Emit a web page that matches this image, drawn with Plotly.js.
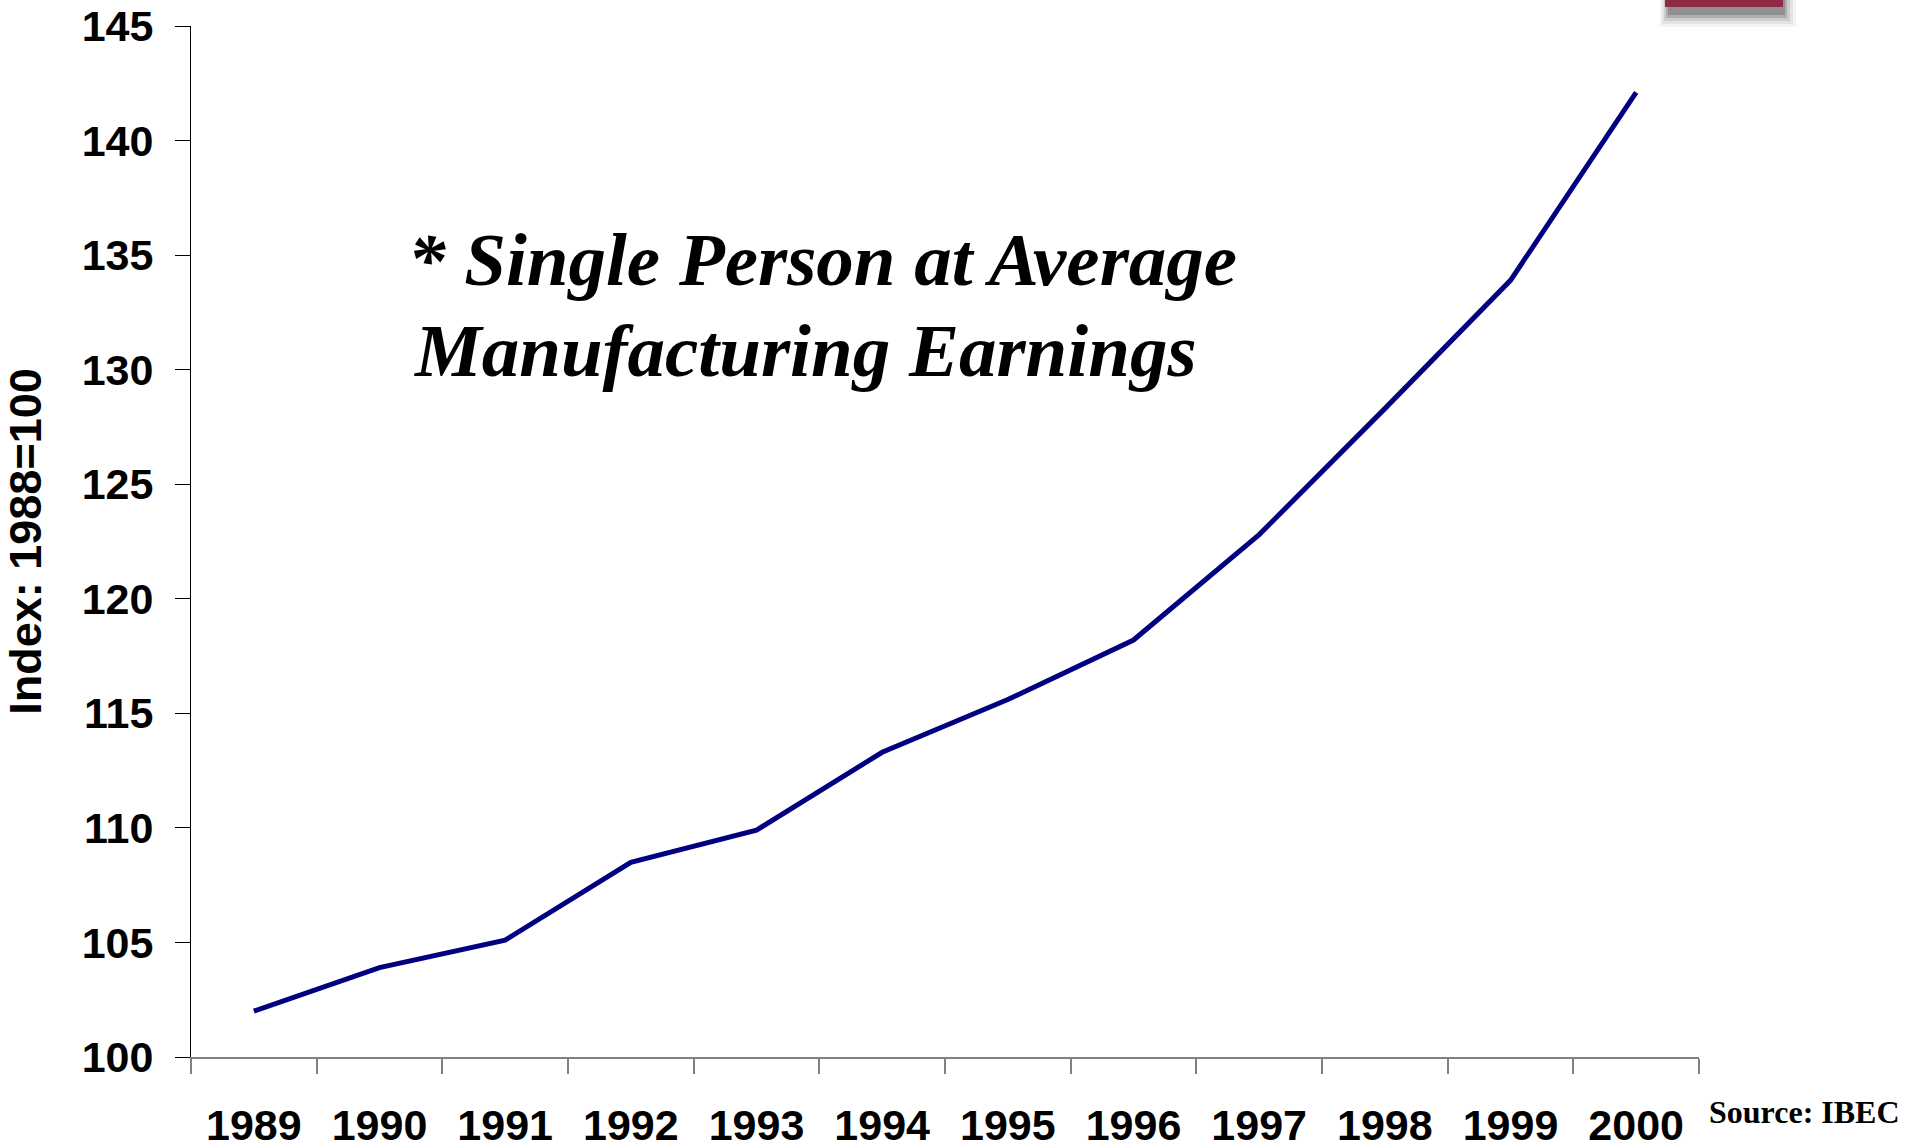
<!DOCTYPE html>
<html>
<head>
<meta charset="utf-8">
<script src="https://cdn.plot.ly/plotly-3.0.1.min.js"></script>
<style>
  html, body { margin: 0; padding: 0; background: #ffffff; }
  #chart { width: 1917px; height: 1147px; }
</style>
</head>
<body>
<div id="chart"></div>
<script>
// ---- data ----
const years = ['1989', '1990', '1991', '1992', '1993', '1994', '1995', '1996', '1997', '1998', '1999', '2000'];
const indexValues = [102.0, 103.9, 105.1, 108.5, 109.9, 113.3, 115.6, 118.2, 122.8, 128.3, 133.9, 142.1];
const yTickValues = [100, 105, 110, 115, 120, 125, 130, 135, 140, 145];
const yTickLabels = ['100', '105', '110', '115', '120', '125', '130', '135', '140', '145'];
const yAxisTitle = 'Index: 1988=100';
const noteLine1 = '* Single Person at Average';
const noteLine2 = 'Manufacturing Earnings';
const sourceText = 'Source: IBEC';

const sans = 'Liberation Sans, Arial, sans-serif';
const serif = 'Liberation Serif, Times New Roman, serif';

const trace = {
  type: 'scatter',
  mode: 'lines',
  x: years,
  y: indexValues,
  line: { color: '#000080', width: 5 },
  hoverinfo: 'x+y',
  showlegend: false
};

// helpers to convert reference pixel positions of decorations to paper coords
const PL = 191, PW = 1508, PT = 26, PH = 1031;
const px = v => (v - PL) / PW;
const py = v => 1 - (v - PT) / PH;

// layered translucent rects approximating the blurred shadow under the red tab
const shadowShapes = [];
const shadowSteps = [
  [1660, 1796, 0, 27, 0.05],
  [1662, 1793, 0, 24, 0.08],
  [1664, 1790, 0, 21, 0.12],
  [1666, 1787, 0, 18, 0.18],
  [1668, 1785, 0, 15, 0.22]
];
shadowSteps.forEach(s => {
  shadowShapes.push({
    type: 'rect', xref: 'paper', yref: 'paper', layer: 'above',
    x0: px(s[0]), x1: px(s[1]), y0: py(s[3]), y1: py(s[2]),
    fillcolor: 'rgba(40,40,40,' + s[4] + ')', line: { width: 0 }
  });
});

const layout = {
  width: 1917,
  height: 1147,
  margin: { l: 191, r: 218, t: 26, b: 90, pad: 0 },
  paper_bgcolor: '#ffffff',
  plot_bgcolor: '#ffffff',
  showlegend: false,
  xaxis: {
    type: 'category',
    range: [-0.5, years.length - 0.5],
    tickson: 'boundaries',
    ticks: 'outside',
    ticklen: 15,
    tickwidth: 2,
    tickcolor: '#808080',
    showline: true,
    linecolor: '#808080',
    linewidth: 2,
    showgrid: false,
    zeroline: false,
    ticklabelstandoff: 29,
    tickfont: { family: sans, size: 43, color: '#000000', weight: 'bold' },
    fixedrange: true
  },
  yaxis: {
    range: [100, 145],
    tickmode: 'array',
    tickvals: yTickValues,
    ticktext: yTickLabels,
    ticks: 'outside',
    ticklen: 15,
    tickwidth: 1,
    tickcolor: '#000000',
    showline: true,
    linecolor: '#000000',
    linewidth: 1,
    showgrid: false,
    zeroline: false,
    ticklabelstandoff: 13,
    tickfont: { family: sans, size: 43, color: '#000000', weight: 'bold' },
    title: {
      text: yAxisTitle,
      font: { family: sans, size: 45, color: '#000000', weight: 'bold' },
      standoff: 26
    },
    fixedrange: true
  },
  annotations: [
    {
      xref: 'paper', yref: 'paper',
      x: px(406), y: py(259),
      xanchor: 'left', yanchor: 'middle',
      text: noteLine1,
      showarrow: false,
      font: { family: serif, size: 75, color: '#000000', weight: 'bold', style: 'italic' }
    },
    {
      xref: 'paper', yref: 'paper',
      x: px(412), y: py(350),
      xanchor: 'left', yanchor: 'middle',
      text: noteLine2,
      showarrow: false,
      font: { family: serif, size: 75, color: '#000000', weight: 'bold', style: 'italic' }
    },
    {
      xref: 'paper', yref: 'paper',
      x: px(1707), y: py(1112),
      xanchor: 'left', yanchor: 'middle',
      text: sourceText,
      showarrow: false,
      font: { family: serif, size: 32, color: '#000000', weight: 'bold' }
    }
  ],
  shapes: shadowShapes.concat([
    {
      type: 'rect', xref: 'paper', yref: 'paper', layer: 'above',
      x0: px(1665), x1: px(1783), y0: py(7), y1: py(-2),
      fillcolor: '#8f2a45', line: { width: 0 }
    }
  ])
};

Plotly.newPlot('chart', [trace], layout, { displayModeBar: false, responsive: false });
</script>
</body>
</html>
